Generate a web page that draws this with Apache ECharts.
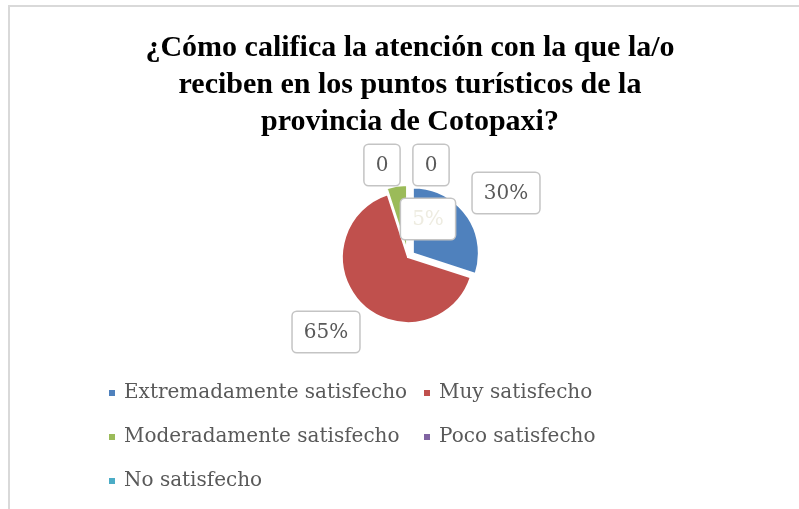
<!DOCTYPE html>
<html>
<head>
<meta charset="utf-8">
<script src="https://cdn.jsdelivr.net/npm/echarts@6/dist/echarts.min.js"></script>
<style>
  html, body { margin: 0; padding: 0; background: #fff; }
  #main { width: 799px; height: 509px; }
</style>
</head>
<body>
<div id="main"></div>
<script>
// datos de la encuesta
const categorias = [
  "Extremadamente satisfecho",
  "Muy satisfecho",
  "Moderadamente satisfecho",
  "Poco satisfecho",
  "No satisfecho"
];
const porcentajes = [30, 65, 5, 0, 0];
const colores = ["#4F81BD", "#C0504D", "#9BBB59", "#8064A2", "#4BACC6"];
const separados = [true, false, true, false, false];

// posiciones de las etiquetas (movidas a mano en el original)
const posEtiquetas = [[506, 193], [326, 332], [428, 219], [382, 165], [431, 165]];

let myChart = echarts.init(document.getElementById("main"));

let datos = categorias.map((c, i) => ({
  name: c,
  value: porcentajes[i],
  selected: separados[i],
  itemStyle: { color: colores[i] }
}));

// misma serie, solo para las etiquetas (sin sectores visibles)
let datosEtiquetas = categorias.map((c, i) => ({
  name: c,
  value: porcentajes[i]
}));

// leyenda en dos columnas
let leyendas = categorias.map((c, i) => ({
  data: [c],
  left: i % 2 == 0 ? 107 : 422,
  top: 381 + Math.floor(i / 2) * 44,
  padding: 0,
  icon: "rect",
  itemWidth: 8,
  itemHeight: 8,
  selectedMode: false,
  textStyle: {
    fontFamily: "DejaVu Serif",
    fontSize: 20,
    color: "#595959",
    lineHeight: 24,
    padding: [0, 0, 0, 3]
  }
}));

myChart.setOption({
  title: {
    text: "¿Cómo califica la atención con la que la/o\nreciben en los puntos turísticos de la\nprovincia de Cotopaxi?",
    left: 405,
    top: 25,
    textAlign: "center",
    textStyle: {
      fontFamily: "Liberation Serif",
      fontWeight: "bold",
      fontSize: 30,
      lineHeight: 37,
      color: "#000"
    }
  },
  graphic: [
    {
      type: "rect",
      shape: { x: 9, y: 6, width: 820, height: 540 },
      style: { fill: "none", stroke: "#D9D9D9", lineWidth: 2 },
      silent: true
    }
  ],
  legend: leyendas,
  series: [
    {
      type: "pie",
      center: [408, 257],
      radius: 66,
      startAngle: 90,
      selectedMode: "multiple",
      selectedOffset: 6,
      itemStyle: { borderColor: "#fff", borderWidth: 2 },
      emphasis: { disabled: true },
      label: { show: false },
      labelLine: { show: false },
      data: datos
    },
    {
      type: "pie",
      center: [408, 257],
      radius: 66,
      startAngle: 90,
      silent: true,
      avoidLabelOverlap: false,
      itemStyle: { color: "rgba(0,0,0,0)", borderWidth: 0 },
      emphasis: { disabled: true },
      label: {
        show: true,
        position: "outside",
        formatter: p => {
          if (p.value == 0) return "{n|0}";
          return (p.dataIndex == 2 ? "{p|" : "{n|") + p.value + "%}";
        },
        backgroundColor: "#fff",
        borderColor: "#C4C4C4",
        borderWidth: 1.5,
        borderRadius: 4,
        padding: [11, 11, 9, 11],
        rich: {
          n: { fontFamily: "DejaVu Serif", fontSize: 20, color: "#595959" },
          p: { fontFamily: "DejaVu Serif", fontSize: 20, color: "#EEECE1" }
        }
      },
      labelLine: { show: false },
      labelLayout: p => ({
        x: posEtiquetas[p.dataIndex][0],
        y: posEtiquetas[p.dataIndex][1],
        align: "center",
        verticalAlign: "middle"
      }),
      data: datosEtiquetas
    }
  ]
});
</script>
</body>
</html>
